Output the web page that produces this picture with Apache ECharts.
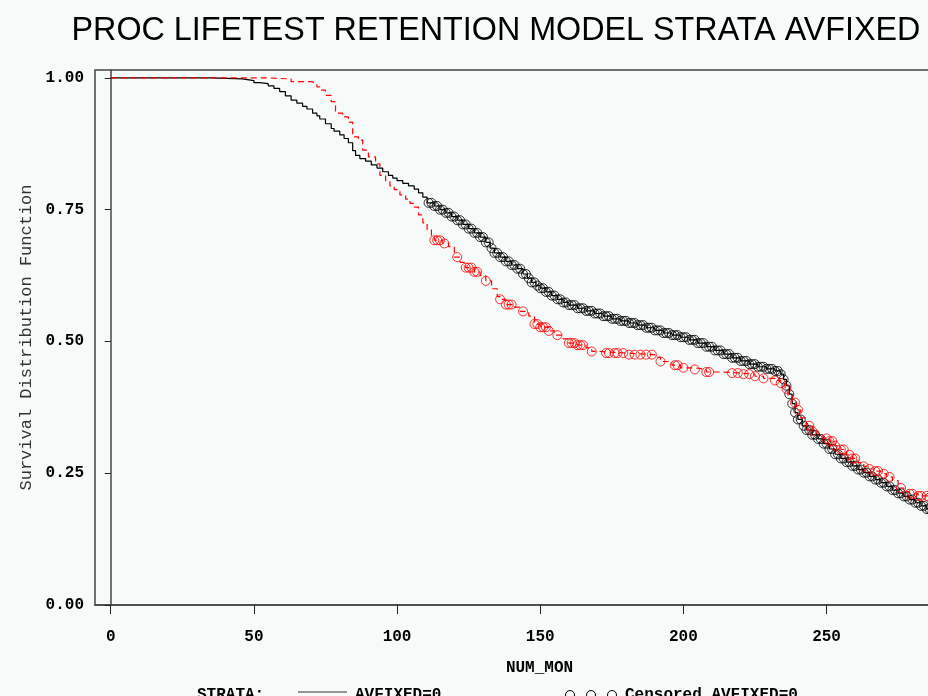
<!DOCTYPE html>
<html>
<head>
<meta charset="utf-8">
<script src="https://cdn.jsdelivr.net/npm/echarts@6/dist/echarts.min.js"></script>
<style>
html,body{margin:0;padding:0;background:#f6faf8;}
#chart{width:928px;height:696px;}
</style>
</head>
<body>
<div id="chart"></div>
<script>
// ---- Data ----
const titleText = 'PROC LIFETEST RETENTION MODEL STRATA AVFIXED';
const xAxisName = 'NUM_MON';
const yAxisName = 'Survival Distribution Function';
const xTickValues = [0, 50, 100, 150, 200, 250, 300];
const yTickValues = [0, 0.25, 0.5, 0.75, 1];

// AVFIXED=0 Kaplan-Meier step curve [month, survival]
const curveAv0 = [
  [0,1],[34,1],[35,0.998],[46,0.995],[50,0.991],[52,0.989],[55,0.985],[57,0.98],[59,0.974],[61,0.966],
  [63,0.958],[65,0.952],[67,0.946],[68.5,0.941],[70.5,0.933],[72,0.928],[73,0.922],[75,0.913],[77,0.904],
  [78,0.899],[80,0.892],[81.5,0.885],[83,0.877],[84.5,0.862],[85.5,0.853],[87,0.847],[89,0.842],[91,0.835],
  [93,0.829],[95,0.822],[97,0.815],[98.5,0.81],[100,0.805],[102,0.8],[104,0.795],[106,0.789],[107.5,0.782],
  [109,0.774],[110.5,0.763],[113,0.757],[115,0.75],[117,0.744],[119,0.737],[121,0.73],[123,0.722],[125,0.714],
  [127,0.706],[129,0.698],[131,0.688],[132.5,0.677],[134,0.668],[136,0.66],[138,0.652],[140,0.645],[142,0.638],
  [144,0.628],[145.5,0.62],[147,0.612],[148.5,0.606],[150,0.601],[152,0.594],[154,0.587],[156,0.58],[158,0.574],
  [160,0.569],[163,0.563],[166,0.558],[169,0.553],[172,0.548],[175,0.543],[178,0.539],[181,0.535],[184,0.531],
  [187,0.526],[190,0.521],[193,0.516],[196,0.512],[199,0.508],[202,0.503],[205,0.497],[208,0.49],[211,0.483],
  [214,0.476],[217,0.469],[220,0.463],[223,0.457],[226,0.452],[229,0.448],[232,0.444],[234,0.438],[235,0.428],
  [236,0.416],[237,0.4],[238,0.382],[239,0.365],[240,0.352],[241.5,0.34],[243,0.332],[245,0.323],[247,0.315],
  [249,0.306],[251,0.296],[253,0.286],[255,0.278],[257,0.271],[259,0.264],[261,0.257],[263,0.251],[265,0.244],
  [267,0.238],[269,0.232],[271,0.225],[273,0.218],[275,0.212],[277,0.206],[279,0.2],[281,0.194],[283,0.188],
  [285,0.182],[287,0.176],[290,0.17]
];

// AVFIXED=1 Kaplan-Meier step curve [month, survival]
const curveAv1 = [
  [0,1],[54,1],[55,0.998],[63,0.993],[70,0.99],[72,0.983],[73,0.977],[75,0.967],[77,0.955],[78.5,0.933],
  [81,0.926],[83,0.916],[84.5,0.888],[86.5,0.882],[88,0.863],[90,0.85],[92.5,0.837],[94,0.815],[96,0.805],
  [97.5,0.795],[99,0.788],[101,0.778],[103,0.77],[104.5,0.762],[106,0.755],[107.5,0.74],[109,0.725],
  [110.5,0.712],[112,0.7],[113,0.692],[116,0.686],[118,0.68],[120,0.66],[122,0.65],[124,0.64],[127,0.632],
  [129,0.625],[131,0.615],[133,0.6],[135,0.585],[136,0.58],[138,0.57],[141,0.565],[143,0.557],[146,0.548],
  [148,0.533],[150,0.527],[153,0.52],[155,0.512],[158,0.505],[160,0.497],[163,0.493],[166,0.488],[168,0.481],
  [171,0.478],[180,0.475],[190,0.47],[192,0.462],[196,0.455],[199,0.45],[204,0.447],[208,0.442],[214,0.44],
  [220,0.438],[225,0.434],[228,0.43],[232,0.426],[234,0.421],[235.5,0.41],[236.5,0.398],[238,0.384],
  [239.5,0.37],[241,0.355],[243,0.34],[245,0.33],[247,0.322],[249,0.316],[251,0.311],[253,0.302],[255,0.295],
  [257,0.285],[259,0.278],[261,0.27],[263,0.263],[265,0.258],[267,0.254],[269,0.249],[271,0.243],[273,0.236],
  [275,0.222],[277,0.215],[279,0.211],[282,0.207],[286,0.204],[290,0.2]
];

// Censoring times (months)
const censorAv0 = [
  111,112,113,114,115,116,117,118,119,120,121,122,123,124,125,126,127,128,129,130,
  131,132,133,134,135,136,137,138,139,140,141,142,143,144,145,146,147,148,149,150,
  151,152,153,154,155,156,157,158,159,160,161,162,163,164,165,166,167,168,169,170,
  171,172,173,174,175,176,177,178,179,180,181,182,183,184,185,186,187,188,189,190,
  191,192,193,194,195,196,197,198,199,200,201,202,203,204,205,206,207,208,209,210,
  211,212,213,214,215,216,217,218,219,220,221,222,223,224,225,226,227,228,229,230,
  231,232,233,234,235,236,237,238,239,240,241,242,243,244,245,246,247,248,249,250,
  251,252,253,254,255,256,257,258,259,260,261,262,263,264,265,266,267,268,269,270,
  271,272,273,274,275,276,277,278,279,280,281,282,283,284,285,286,287,288,289,290
];
const censorAv1 = [
  113,114,115,116.5,121,124,125,126,127,128,131,136,138,139,140,144,148,149,150,151,
  152,153,156,160,161,162,163,164,165,168,173,174,176,177,179,181,183,185,187,189,
  192,197,198,200,204,208,209,217,219,221,223,225,228,232,234,236,239,240,244,245,
  250,251,252,253,255,256,258,259,260,263,265,267,268,270,272,276,279,280,282,283,285,286,288
];

// ---- Helpers ----
function survivalAt(curve, t) {
  let v = curve[0][1];
  for (const p of curve) { if (p[0] <= t) v = p[1]; else break; }
  return v;
}
const censorPts0 = censorAv0.map(t => [t, survivalAt(curveAv0, t)]);
const censorPts1 = censorAv1.map(t => [t, survivalAt(curveAv1, t)]);

const monoBold = {fontFamily: 'Liberation Mono', fontWeight: 'bold', fontSize: 16, color: '#000'};

const chart = echarts.init(document.getElementById('chart'));
chart.setOption({
  backgroundColor: '#f6faf8',
  animation: false,
  grid: {left: 95, top: 70, width: 889, bottom: 91, outerBoundsMode: 'none', containLabel: false,
    show: true, borderColor: '#444', borderWidth: 1.5, backgroundColor: 'transparent'},
  xAxis: {
    type: 'value', min: -5.5, max: 305,
    name: xAxisName, nameLocation: 'middle', nameGap: 55,
    nameTextStyle: monoBold,
    axisLine: {show: true, lineStyle: {color: '#444', width: 1.5}},
    axisTick: {show: true, length: 9, lineStyle: {color: '#222'}, customValues: xTickValues},
    axisLabel: {customValues: xTickValues, margin: 24, ...monoBold},
    splitLine: {show: false}
  },
  yAxis: {
    type: 'value', min: 0, max: 1.015,
    name: yAxisName, nameLocation: 'middle', nameGap: 51,
    nameTextStyle: {fontFamily: 'Liberation Mono', fontSize: 17, color: '#333'},
    axisLine: {show: true, lineStyle: {color: '#444', width: 1.5}},
    axisTick: {show: true, length: 6, lineStyle: {color: '#222'}, customValues: yTickValues},
    axisLabel: {customValues: yTickValues, margin: 11, formatter: v => v.toFixed(2), ...monoBold},
    splitLine: {show: false}
  },
  series: [
    {type: 'line', step: 'end', data: curveAv0, showSymbol: false, lineStyle: {color: '#000', width: 1.2}, z: 2},
    {type: 'scatter', data: censorPts0, symbol: 'circle', symbolSize: 9,
      itemStyle: {color: 'rgba(0,0,0,0)', borderColor: '#000', borderWidth: 1}, z: 3},
    {type: 'line', step: 'end', data: curveAv1, showSymbol: false, lineStyle: {color: '#ff0000', width: 1.2, type: [6, 4]}, z: 4},
    {type: 'scatter', data: censorPts1, symbol: 'circle', symbolSize: 9,
      itemStyle: {color: 'rgba(0,0,0,0)', borderColor: '#ff0000', borderWidth: 1}, z: 5}
  ],
  graphic: [
    {type: 'text', x: 496, y: 31, scaleX: 0.95,
      style: {text: titleText, font: '34px "Liberation Sans"', fill: '#000', align: 'center', verticalAlign: 'middle'}},
    {type: 'text', x: 197, y: 687, style: {text: 'STRATA:', font: 'bold 16px "Liberation Mono"', fill: '#000', verticalAlign: 'top'}},
    {type: 'line', shape: {x1: 298, y1: 692, x2: 347, y2: 692}, style: {stroke: '#333', lineWidth: 1.2}},
    {type: 'text', x: 355, y: 687, style: {text: 'AVFIXED=0', font: 'bold 16px "Liberation Mono"', fill: '#000', verticalAlign: 'top'}},
    {type: 'circle', shape: {cx: 570, cy: 695, r: 4.5}, style: {fill: 'none', stroke: '#000', lineWidth: 1}},
    {type: 'circle', shape: {cx: 591, cy: 695, r: 4.5}, style: {fill: 'none', stroke: '#000', lineWidth: 1}},
    {type: 'circle', shape: {cx: 612, cy: 695, r: 4.5}, style: {fill: 'none', stroke: '#000', lineWidth: 1}},
    {type: 'text', x: 625, y: 687, style: {text: 'Censored AVFIXED=0', font: 'bold 16px "Liberation Mono"', fill: '#000', verticalAlign: 'top'}}
  ]
});
</script>
</body>
</html>
